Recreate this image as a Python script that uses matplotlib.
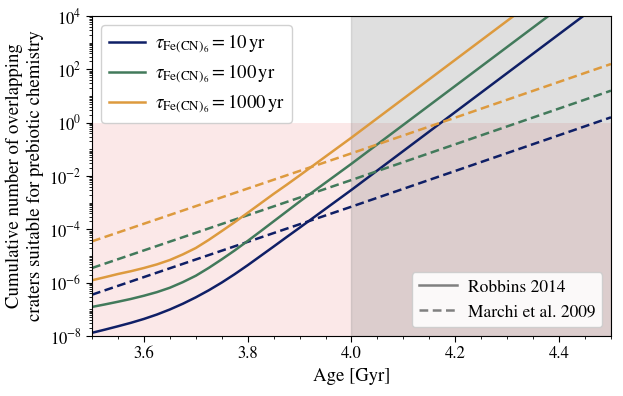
import numpy as np
import matplotlib
matplotlib.use("Agg")
import matplotlib.pyplot as plt
from matplotlib.lines import Line2D
from matplotlib.ticker import FixedLocator, MultipleLocator, NullFormatter

plt.rcParams['font.family'] = 'serif'
plt.rcParams['font.serif'] = ['STIXGeneral', 'Liberation Serif', 'DejaVu Serif']
plt.rcParams['mathtext.fontset'] = 'stix'

# Robbins 2014 (solid) - ages [Gyr] and log10 of cumulative number
age_solid = [3.500, 3.525, 3.550, 3.575, 3.600, 3.625, 3.650, 3.675, 3.700, 3.725,
             3.750, 3.775, 3.800, 3.825, 3.850, 3.875, 3.900, 3.950, 4.000, 4.100,
             4.200, 4.300, 4.400, 4.500]
log_solid_10 = [-7.88, -7.76, -7.635, -7.505, -7.36, -7.195, -7.005, -6.79, -6.55, -6.285,
                -5.995, -5.68, -5.345, -4.995, -4.645, -4.29, -3.94, -3.23, -2.52, -1.06,
                0.40, 1.86, 3.32, 4.78]
log_solid_100 = [-6.91, -6.815, -6.715, -6.61, -6.49, -6.355, -6.19, -5.98, -5.74, -5.445,
                 -5.125, -4.79, -4.435, -4.07, -3.70, -3.33, -2.96, -2.25, -1.54, -0.08,
                 1.38, 2.84, 4.30, 5.76]
log_solid_1000 = [-5.91, -5.795, -5.675, -5.57, -5.45, -5.315, -5.15, -4.94, -4.70, -4.395,
                  -4.065, -3.73, -3.38, -3.025, -2.67, -2.33, -1.98, -1.27, -0.56, 0.90,
                  2.36, 3.82, 5.28, 6.74]

# Marchi et al. 2009 (dashed)
age_dashed = [3.50, 4.00, 4.50]
log_dashed_10 = [-6.45, -3.15, 0.20]
log_dashed_100 = [-5.45, -2.15, 1.20]
log_dashed_1000 = [-4.45, -1.15, 2.20]

labels = [r'$\tau_{\mathrm{Fe(CN)}_6} = 10\,\mathrm{yr}$',
          r'$\tau_{\mathrm{Fe(CN)}_6} = 100\,\mathrm{yr}$',
          r'$\tau_{\mathrm{Fe(CN)}_6} = 1000\,\mathrm{yr}$']
colors = ['#0f1f66', '#427a5b', '#dd9a3e']

fig = plt.figure(figsize=(6.23, 3.96), dpi=100)
ax = fig.add_axes([0.1477, 0.1515, 0.8330, 0.8081])

ax.axhspan(1e-8, 1.0, color='#f4b4b4', alpha=0.3, lw=0, zorder=0)
ax.axvspan(4.0, 4.5, color='gray', alpha=0.25, zorder=0.5)

solids = [log_solid_10, log_solid_100, log_solid_1000]
dasheds = [log_dashed_10, log_dashed_100, log_dashed_1000]
handles = []
for s, d, c, lab in zip(solids, dasheds, colors, labels):
    h, = ax.plot(age_solid, 10.0 ** np.array(s), color=c, lw=1.8, label=lab, zorder=2)
    ax.plot(age_dashed, 10.0 ** np.array(d), color=c, lw=1.8, ls=(0, (3.5, 1.8)), zorder=2)
    handles.append(h)

ax.set_yscale('log')
ax.set_xlim(3.5, 4.5)
ax.set_ylim(1e-8, 1e4)
ax.yaxis.set_major_locator(FixedLocator([10.0 ** k for k in range(-8, 5, 2)]))
minor = [m * 10.0 ** k for k in range(-8, 4) for m in range(1, 10) if not (m == 1 and k % 2 == 0)]
ax.yaxis.set_minor_locator(FixedLocator(minor))
ax.yaxis.set_minor_formatter(NullFormatter())
ax.set_yticklabels([r'$10^{%d}$' % k for k in range(-8, 5, 2)])
ax.xaxis.set_minor_locator(MultipleLocator(0.05))
ax.set_xticks([3.6, 3.8, 4.0, 4.2, 4.4])
ax.set_xticklabels(['3.6', '3.8', '4.0', '4.2', '4.4'])
ax.tick_params(axis='both', which='major', labelsize=12, length=4)
ax.tick_params(axis='both', which='minor', length=2)

ax.set_xlabel('Age [Gyr]', fontsize=13.5)
ax.set_ylabel('Cumulative number of overlapping\ncraters suitable for prebiotic chemistry', fontsize=13.5)

leg1 = ax.legend(handles=handles, loc='upper left', fontsize=13.5, framealpha=0.9,
                 handlelength=1.9, handletextpad=0.55, labelspacing=0.4)
ax.add_artist(leg1)
h2 = [Line2D([], [], color='gray', lw=1.8), Line2D([], [], color='gray', lw=1.8, ls=(0, (3.5, 1.8)))]
ax.legend(h2, ['Robbins 2014', 'Marchi et al. 2009'], loc='lower right', fontsize=12.5, framealpha=0.9,
          handlelength=2.2, handletextpad=0.63, labelspacing=0.5)

fig.savefig('out.png', dpi=100)
